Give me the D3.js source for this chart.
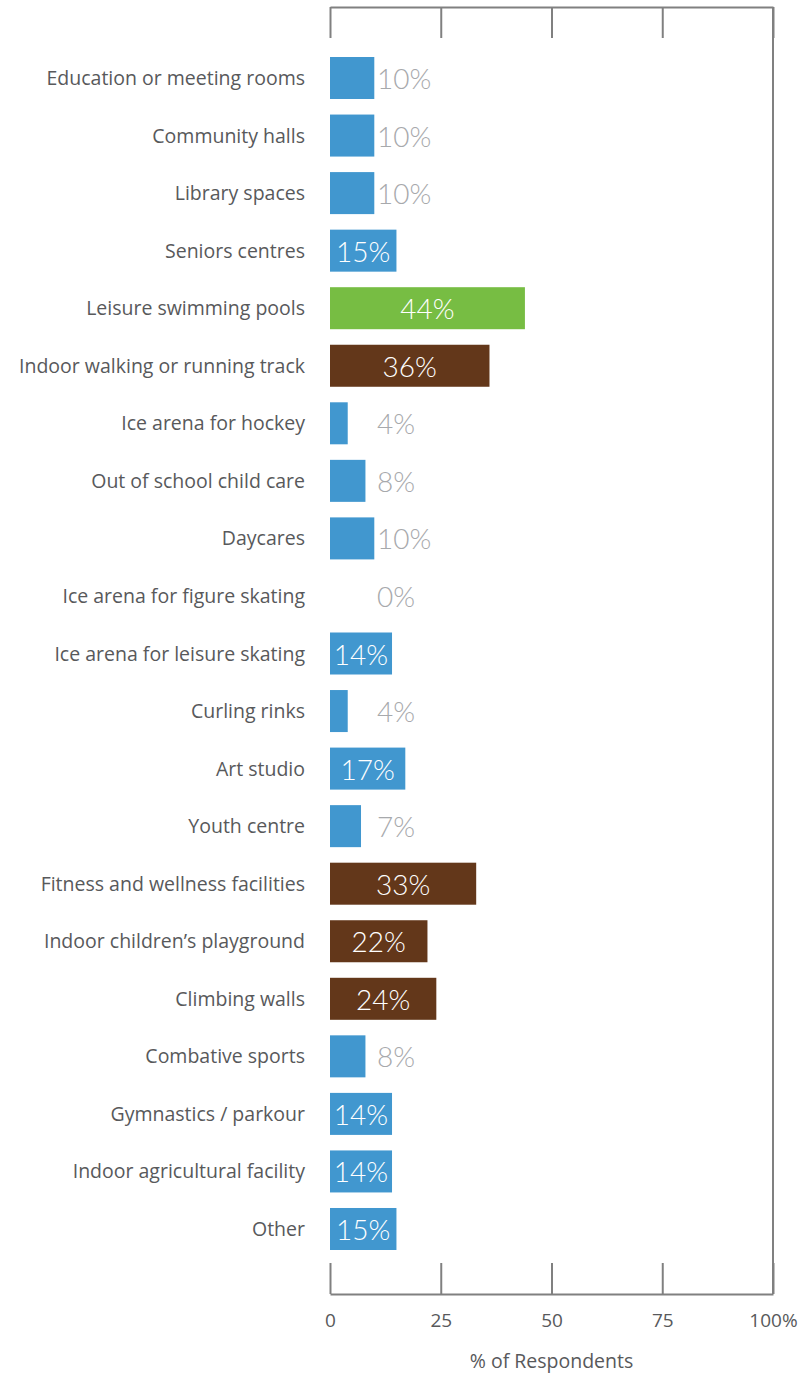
<!DOCTYPE html>
<html>
<head>
<meta charset="utf-8">
<script src="https://cdn.jsdelivr.net/npm/d3@7"></script>
<style>
  html, body { margin: 0; padding: 0; background: #fff; }
  svg { display: block; }
</style>
</head>
<body>
<svg id="chart" width="804" height="1377"></svg>
<script>
// Facility categories, top to bottom
const categories = [
  "Education or meeting rooms",
  "Community halls",
  "Library spaces",
  "Seniors centres",
  "Leisure swimming pools",
  "Indoor walking or running track",
  "Ice arena for hockey",
  "Out of school child care",
  "Daycares",
  "Ice arena for figure skating",
  "Ice arena for leisure skating",
  "Curling rinks",
  "Art studio",
  "Youth centre",
  "Fitness and wellness facilities",
  "Indoor children\u2019s playground",
  "Climbing walls",
  "Combative sports",
  "Gymnastics / parkour",
  "Indoor agricultural facility",
  "Other"
];

// Percentage of respondents per category
const values = [10, 10, 10, 15, 44, 36, 4, 8, 10, 0, 14, 4, 17, 7, 33, 22, 24, 8, 14, 14, 15];

// Priority group per category: top priority, high priority, other
const groups = [
  "other", "other", "other", "other", "top", "high", "other", "other", "other", "other", "other",
  "other", "other", "other", "high", "high", "high", "other", "other", "other", "other"
];

const xTicks = [0, 25, 50, 75, 100];
const xTickLabels = ["0", "25", "50", "75", "100%"];
const xTitle = "% of Respondents";

const colorOf = { top: "#77bd43", high: "#63371a", other: "#4197cf" };

const data = categories.map((c, i) => ({ category: c, value: values[i], group: groups[i] }));

const svg = d3.select("#chart");

const x = d3.scaleLinear().domain([0, 100]).range([330, 773]);
const y = d3.scaleBand().domain(categories).range([57, 1250])
  .paddingInner(0.27).paddingOuter(0);

const frameTop = 7, frameBottom = 1294;
const axisColor = "#808080";
const labelFont = "'Open Sans', 'Noto Sans', sans-serif";

// Top frame with inward ticks
const topAxis = svg.append("g")
  .attr("transform", `translate(0,${frameTop})`)
  .call(d3.axisTop(x).tickValues(xTicks).tickSizeInner(-31).tickSizeOuter(0).tickFormat(""));

// Bottom axis with inward ticks and labels
const bottomAxis = svg.append("g")
  .attr("transform", `translate(0,${frameBottom})`)
  .call(d3.axisBottom(x).tickValues(xTicks).tickSizeInner(-31).tickSizeOuter(0)
    .tickPadding(20).tickFormat((d, i) => xTickLabels[i]));

[topAxis, bottomAxis].forEach(g => {
  g.select(".domain").attr("stroke", axisColor).attr("stroke-width", 2);
  g.selectAll(".tick line").attr("stroke", axisColor).attr("stroke-width", 2);
});

bottomAxis.selectAll(".tick text")
  .attr("fill", "#58595b")
  .style("font-family", labelFont)
  .style("font-size", "19px");

// Right frame edge
svg.append("line")
  .attr("x1", x(100)).attr("x2", x(100))
  .attr("y1", frameTop).attr("y2", frameBottom)
  .attr("stroke", axisColor).attr("stroke-width", 2);

// Bars
svg.append("g").selectAll("rect")
  .data(data)
  .join("rect")
  .attr("x", x(0))
  .attr("y", d => y(d.category))
  .attr("width", d => x(d.value) - x(0))
  .attr("height", y.bandwidth())
  .attr("fill", d => colorOf[d.group]);

// Category labels
svg.append("g").selectAll("text")
  .data(data)
  .join("text")
  .attr("x", 305)
  .attr("y", d => y(d.category) + y.bandwidth() / 2 + 7)
  .attr("text-anchor", "end")
  .attr("fill", "#58595b")
  .style("font-family", labelFont)
  .style("font-size", "19.5px")
  .text(d => d.category);

// Value labels: inside the bar when it is wide enough, otherwise beside it
const insideMin = 12;
svg.append("g").selectAll("text")
  .data(data)
  .join("text")
  .attr("x", d => d.value >= insideMin ? (x(0) + x(d.value)) / 2 : x(0) + 47)
  .attr("y", d => y(d.category) + y.bandwidth() / 2 + 11)
  .attr("text-anchor", d => d.value >= insideMin ? "middle" : "start")
  .attr("fill", d => d.value >= insideMin ? "#ffffff" : "#a7a9ac")
  .style("font-family", "Lato, 'Open Sans', sans-serif")
  .style("font-weight", 300)
  .style("font-size", "28px")
  .text(d => d.value + "%");

// Axis title
svg.append("text")
  .attr("x", (x(0) + x(100)) / 2)
  .attr("y", 1368)
  .attr("text-anchor", "middle")
  .attr("fill", "#58595b")
  .style("font-family", labelFont)
  .style("font-size", "19.5px")
  .text(xTitle);
</script>
</body>
</html>
